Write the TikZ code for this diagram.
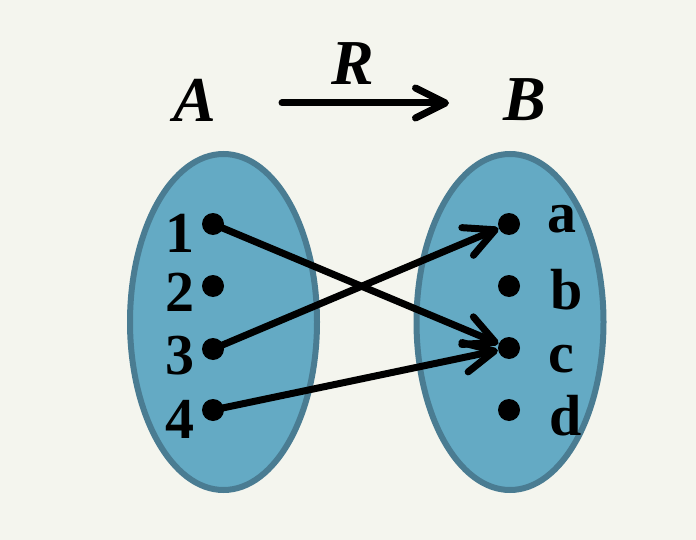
\documentclass[tikz,border=0pt]{standalone}
\usepackage{fontspec}
\setmainfont{Liberation Serif}
\usepackage{tikz}
\usetikzlibrary{arrows.meta,shapes.geometric}

\definecolor{bgpaper}{HTML}{F4F5EE}
\definecolor{setfill}{HTML}{64AAC4}
\definecolor{setline}{HTML}{4A7C92}

\begin{document}
\begin{tikzpicture}[x=0.5pt,y=-0.5pt,
   setshape/.style={ellipse,draw=setline,fill=setfill,line width=3pt,inner sep=0pt,
                    minimum width=93.5pt,minimum height=168pt},
   elem/.style={circle,fill=black,inner sep=0pt,minimum size=11pt},
   elemlabel/.style={font=\fontsize{29}{30}\selectfont\bfseries,inner sep=0pt},
   setname/.style={font=\fontsize{32}{34}\selectfont\bfseries\itshape,inner sep=0pt,anchor=base},
   rel/.style={line width=3.5pt,line cap=round,line join=round,
               -{Straight Barb[length=15pt,width=15pt,round]}}]
      \fill[bgpaper] (0,0) rectangle (696,540);
      \useasboundingbox (0,0) rectangle (696,540);
      % the two sets
      \node[setshape] (setA) at (223.5,322) {};
      \node[setshape] (setB) at (510,322) {};
      % names and the relation arrow
      \node[setname] (nameA) at (195,122) {A};
      \node[setname] (nameB) at (525,120) {B};
      \node[setname] (nameR) at (353,85) {R};
      \coordinate (rstart) at (282,103);
      \coordinate (rend) at (449,103);
      \draw[rel] (rstart) -- (rend);
      % elements of A
      \foreach \i/\y/\dy in {1/224/28, 2/286/25, 3/349/25, 4/410/28}
      {
         \node[elem] (n\i) at (213,\y) {};
         \node[elemlabel,anchor=base east] (l\i) at (195,\y+\dy) {\i};
      }
      % elements of B
      \foreach \c/\y/\x/\dy in {a/224/547/8, b/286/550/23, c/348/548/24, d/410/549/25}
      {
         \node[elem] (n\c) at (509,\y) {};
         \node[elemlabel,anchor=base west] (l\c) at (\x,\y+\dy) {\c};
      }
      % the relation
      \draw[rel] (n1.center) -- (nc);
      \draw[rel] (n3.center) -- (na);
      \draw[rel] (n4.center) -- (nc);
   \end{tikzpicture}
\end{document}
